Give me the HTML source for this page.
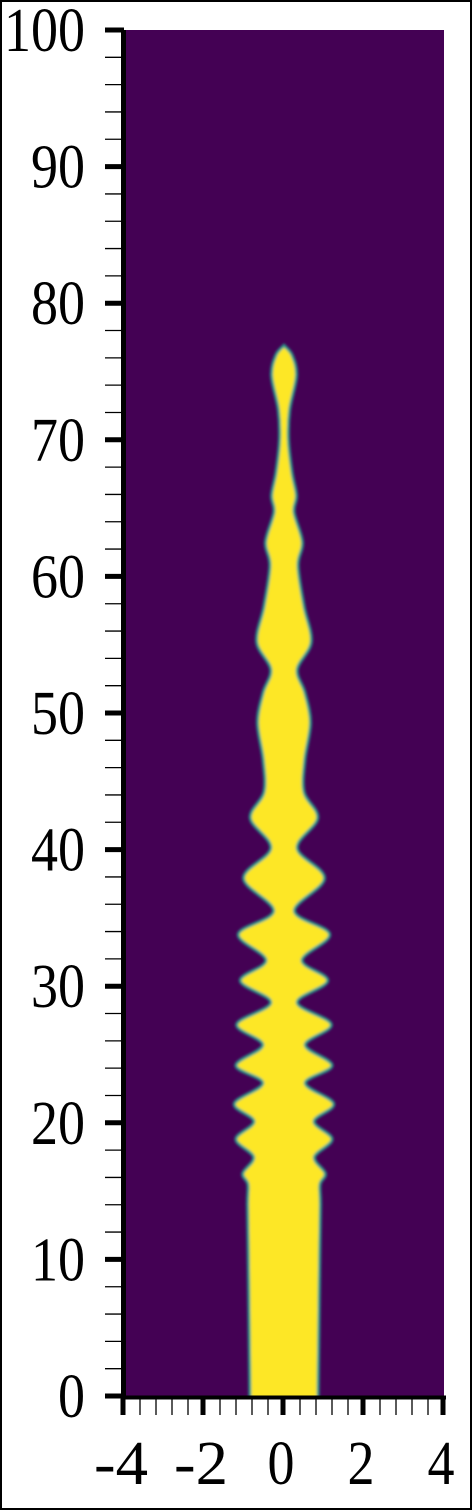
<!DOCTYPE html>
<html><head><meta charset="utf-8"><style>
html,body{margin:0;padding:0;background:#fff;}
svg{display:block;}
text{font-family:"Liberation Serif",serif;fill:#000;}
</style></head><body>
<svg id="chart" width="473" height="1511" viewBox="0 0 473 1511">
<defs>
<clipPath id="plotclip"><rect x="124" y="30" width="320" height="1366"/></clipPath>
<filter id="soft" x="-20%" y="-5%" width="140%" height="110%"><feGaussianBlur stdDeviation="1.2"/></filter>
</defs>
<rect x="1" y="1" width="470" height="1508" fill="none" stroke="#000" stroke-width="2"/>
<rect x="124" y="30" width="320" height="1366" fill="#440154"/>
<g clip-path="url(#plotclip)" id="jetg"></g>
<g id="axes"></g>
</svg>
<script>
// jet profile: height z and half-width r (data units)
const zVals = [0, 5, 10, 14, 15.5, 16.3, 17.5, 18.8, 20.1, 21.4, 22.9, 24.2, 25.7, 27.2, 28.8, 30.4, 31.9, 33.8, 35.5, 37.9, 40.1, 42.3, 44.2, 46.6, 49.3, 51.5, 53.2, 55.2, 57.8, 60.8, 62.5, 64.7, 65.9, 67.6, 70, 72.2, 74.7, 76.2, 76.9];
const rVals = [0.85, 0.87, 0.89, 0.91, 0.9, 1.03, 0.76, 1.2, 0.75, 1.24, 0.53, 1.2, 0.53, 1.18, 0.33, 1.09, 0.45, 1.14, 0.26, 1.01, 0.33, 0.84, 0.5, 0.52, 0.66, 0.52, 0.33, 0.68, 0.5, 0.35, 0.46, 0.25, 0.31, 0.2, 0.11, 0.14, 0.31, 0.2, 0];
const xTicks = [-4, -2, 0, 2, 4];
const yTicks = [0, 10, 20, 30, 40, 50, 60, 70, 80, 90, 100];

const X0 = 124, X1 = 444, Y0 = 1396, Y1 = 30;
const xs = v => X0 + (v + 4) / 8 * (X1 - X0);
const ys = v => Y0 - v / 100 * (Y0 - Y1);
const NS = "http://www.w3.org/2000/svg";

function smoothPts(pts) {
  let d = "";
  for (let i = 0; i < pts.length - 1; i++) {
    const p0 = pts[Math.max(0, i - 1)], p1 = pts[i], p2 = pts[i + 1], p3 = pts[Math.min(pts.length - 1, i + 2)];
    const c1 = [p1[0] + (p2[0] - p0[0]) / 6, p1[1] + (p2[1] - p0[1]) / 6];
    const c2 = [p2[0] - (p3[0] - p1[0]) / 6, p2[1] - (p3[1] - p1[1]) / 6];
    d += (i === 0 ? "M" + p1[0] + "," + p1[1] : "") + "C" + c1[0] + "," + c1[1] + " " + c2[0] + "," + c2[1] + " " + p2[0] + "," + p2[1];
  }
  return d;
}
const right = zVals.map((z, i) => [xs(rVals[i]), ys(z)]);
const left = zVals.map((z, i) => [xs(-rVals[i]), ys(z)]).reverse();
const rd = smoothPts([[xs(rVals[0]), ys(-2)]].concat(right));
const ld = smoothPts(left.concat([[xs(-rVals[0]), ys(-2)]])).replace(/^M/, "L");
const jet = document.createElementNS(NS, "path");
jet.setAttribute("d", rd + ld + "Z");
jet.setAttribute("fill", "#fde725");
jet.setAttribute("stroke", "#2a9d8c");
jet.setAttribute("stroke-width", "3");
jet.setAttribute("filter", "url(#soft)");


document.getElementById("jetg").appendChild(jet);

const ax = document.getElementById("axes");
function line(x1, y1, x2, y2, w, name) {
  const l = document.createElementNS(NS, "line");
  l.setAttribute("x1", x1); l.setAttribute("y1", y1); l.setAttribute("x2", x2); l.setAttribute("y2", y2);
  l.setAttribute("stroke", "#000"); l.setAttribute("stroke-width", w);
  
  
  ax.appendChild(l);
}
function txt(x, y, s, anchor, name) {
  const t = document.createElementNS(NS, "text");
  t.setAttribute("x", x); t.setAttribute("y", y); t.setAttribute("text-anchor", anchor);
  t.setAttribute("font-size", "62");
  t.setAttribute("textLength", String(s.length * 27));
  t.setAttribute("lengthAdjust", "spacingAndGlyphs");
  t.textContent = s;
  
  
  ax.appendChild(t);
}
for (let v = 0; v <= 100; v += 2) {
  if (v % 10 === 0) continue;
  line(105, ys(v), 122, ys(v), 1.3, "y-minor-tick");
}
yTicks.forEach(v => {
  line(105, ys(v), 124, ys(v), 5, "y-major-tick");
  txt(85, ys(v) + 21, String(v), "end", "y-tick-label");
});
for (let k = 0; k <= 20; k++) {
  const v = -4 + k * 0.4;
  if (k % 5 === 0) continue;
  line(xs(v), 1398, xs(v), 1415, 1.3, "x-minor-tick");
}
xTicks.forEach(v => {
  line(xs(v) - 1, 1396, xs(v) - 1, 1415, 5, "x-major-tick");
  txt(xs(v) - 3, 1484, String(v), "middle", "x-tick-label");
});
line(123.5, 30, 123.5, 1399, 5, "y-axis-spine");
line(121, 1397.5, 446, 1397.5, 4, "x-axis-spine");
</script>
</body></html>
